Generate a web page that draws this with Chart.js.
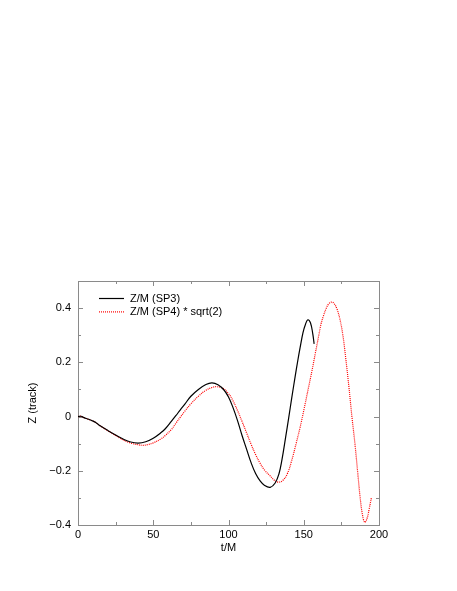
<!DOCTYPE html>
<html lang="en">
<head>
<meta charset="UTF-8">
<title>Z (track)</title>
<script src="https://cdn.jsdelivr.net/npm/chart.js@4"></script>
<style>
    html, body { margin: 0; padding: 0; background: #fff; }
    canvas { display: block; }
</style>
</head>
<body>
<canvas id="trackChart" width="457" height="591"></canvas>
<script>
// Z/M (SP3) - black solid
const tSP3 = [0, 2, 4, 7, 10, 12, 15, 20, 25, 30, 35, 40, 45, 50, 55, 58, 62, 65, 68, 71, 75, 80, 85, 89, 93, 97, 100, 103, 106, 109, 112, 115, 118, 121, 124, 127.7, 131, 133.5, 135.5, 138, 140, 142, 144.3, 146, 147.6, 149.5, 151, 152.7, 154.5, 156, 156.9];
const zSP3 = [0, 0.001, -0.004, -0.01, -0.017, -0.023, -0.035, -0.052, -0.068, -0.083, -0.094, -0.098, -0.093, -0.080, -0.060, -0.045, -0.018, 0.003, 0.025, 0.046, 0.075, 0.100, 0.118, 0.124, 0.117, 0.098, 0.072, 0.033, -0.015, -0.07, -0.12, -0.17, -0.21, -0.237, -0.254, -0.261, -0.245, -0.212, -0.16, -0.075, -0.005, 0.068, 0.148, 0.205, 0.255, 0.31, 0.338, 0.357, 0.345, 0.305, 0.268];

// Z/M (SP4) * sqrt(2) - red dotted
const tSP4 = [0, 2, 4, 7, 10, 12, 15, 20, 25, 30, 35, 40, 43, 46, 50, 55, 58, 62, 65, 68, 71, 75, 80, 85, 89, 92.2, 96, 100, 103, 106, 109, 112, 115, 118, 121, 124, 127.5, 130.5, 133.3, 136, 139, 142, 145, 147.6, 150, 153.2, 155.5, 157.6, 160, 161.5, 163, 165, 166.5, 168.4, 170, 172, 174, 176, 178, 180, 182, 184, 186, 187.5, 189, 190.5, 192, 193.5, 195];
const zSP4 = [0, 0.001, -0.004, -0.01, -0.017, -0.023, -0.035, -0.053, -0.070, -0.086, -0.098, -0.104, -0.106, -0.104, -0.097, -0.083, -0.07, -0.048, -0.025, -0.002, 0.02, 0.047, 0.075, 0.097, 0.107, 0.110, 0.105, 0.085, 0.058, 0.022, -0.018, -0.06, -0.102, -0.14, -0.172, -0.198, -0.218, -0.235, -0.242, -0.236, -0.212, -0.162, -0.098, -0.039, 0.022, 0.108, 0.17, 0.231, 0.3, 0.342, 0.37, 0.40, 0.415, 0.422, 0.418, 0.398, 0.36, 0.30, 0.21, 0.11, 0.0, -0.1, -0.215, -0.3, -0.362, -0.39, -0.377, -0.34, -0.298];

const xTicks = [0, 50, 100, 150, 200];
const xMinorTicks = [25, 75, 125, 175];
const yTicks = [-0.4, -0.2, 0, 0.2, 0.4];
const yMinorTicks = [-0.3, -0.1, 0.1, 0.3];

Chart.defaults.font.family = '"Liberation Sans", Arial, sans-serif';
Chart.defaults.font.size = 11;
Chart.defaults.color = '#000';

const toPoints = (ts, zs) => ts.map((t, i) => ({ x: t, y: zs[i] }));

// box around the plot with inward ticks on all four sides
const framePlugin = {
    id: 'frame',
    beforeDatasetsDraw(chart) {
        const { ctx, chartArea: a, scales: { x, y } } = chart;
        ctx.save();
        ctx.strokeStyle = '#8a8a8a';
        ctx.lineWidth = 1;
        ctx.strokeRect(a.left + 0.5, a.top + 0.5, a.right - a.left, a.bottom - a.top);
        ctx.beginPath();
        const xMark = (v, len) => {
            const px = Math.round(x.getPixelForValue(v)) + 0.5;
            ctx.moveTo(px, a.bottom); ctx.lineTo(px, a.bottom - len);
            ctx.moveTo(px, a.top); ctx.lineTo(px, a.top + len);
        };
        const yMark = (v, len) => {
            const py = Math.round(y.getPixelForValue(v)) + 0.5;
            ctx.moveTo(a.left, py); ctx.lineTo(a.left + len, py);
            ctx.moveTo(a.right, py); ctx.lineTo(a.right - len, py);
        };
        xTicks.forEach(v => xMark(v, 5));
        xMinorTicks.forEach(v => xMark(v, 3));
        yTicks.forEach(v => yMark(v, 5));
        yMinorTicks.forEach(v => yMark(v, 3));
        ctx.stroke();
        ctx.restore();
    }
};

const cornerLegend = {
    id: 'cornerLegend',
    afterDatasetsDraw(chart) {
        const { ctx } = chart;
        chart.data.datasets.forEach((ds, i) => {
            const yy = 298.5 + i * 13.4;
            ctx.save();
            ctx.strokeStyle = ds.borderColor;
            ctx.lineWidth = ds.borderWidth;
            ctx.setLineDash(ds.borderDash || []);
            ctx.beginPath();
            ctx.moveTo(99, yy);
            ctx.lineTo(124, yy);
            ctx.stroke();
            ctx.setLineDash([]);
            ctx.fillStyle = '#000';
            ctx.font = '11px "Liberation Sans", Arial, sans-serif';
            ctx.textBaseline = 'middle';
            ctx.fillText(ds.label, 130, yy);
            ctx.restore();
        });
    }
};

new Chart(document.getElementById('trackChart'), {
    type: 'scatter',
    data: {
        datasets: [
            {
                label: 'Z/M (SP3)',
                data: toPoints(tSP3, zSP3),
                showLine: true,
                borderColor: '#000000',
                borderWidth: 1.2,
                pointRadius: 0,
                tension: 0.4
            },
            {
                label: 'Z/M (SP4) * sqrt(2)',
                data: toPoints(tSP4, zSP4),
                showLine: true,
                borderColor: '#ff0000',
                borderWidth: 1.2,
                borderDash: [1, 1],
                pointRadius: 0,
                tension: 0.4
            }
        ]
    },
    options: {
        responsive: false,
        animation: false,
        layout: { padding: { left: 0, top: 281, right: 78, bottom: 0 } },
        plugins: { legend: { display: false }, tooltip: { enabled: false } },
        scales: {
            x: {
                type: 'linear',
                min: 0,
                max: 200,
                grid: { display: false, drawTicks: false },
                border: { display: false },
                afterBuildTicks: s => { s.ticks = xTicks.map(v => ({ value: v })); },
                afterFit: s => { s.height = 66; },
                ticks: { padding: 3, autoSkip: false, maxRotation: 0 },
                title: { display: true, text: 't/M', padding: { top: 0, bottom: 36 } }
            },
            y: {
                type: 'linear',
                min: -0.4,
                max: 0.5,
                grid: { display: false, drawTicks: false },
                border: { display: false },
                afterBuildTicks: s => { s.ticks = yTicks.map(v => ({ value: v })); },
                afterFit: s => { s.width = 78; },
                ticks: {
                    padding: 7,
                    autoSkip: false,
                    callback: v => v === 0 ? '0' : (v < 0 ? '\u2212' + Math.abs(v).toFixed(1) : v.toFixed(1))
                },
                title: { display: true, text: 'Z (track)', padding: { top: 26, bottom: 0 } }
            }
        }
    },
    plugins: [framePlugin, cornerLegend]
});
</script>
</body>
</html>
